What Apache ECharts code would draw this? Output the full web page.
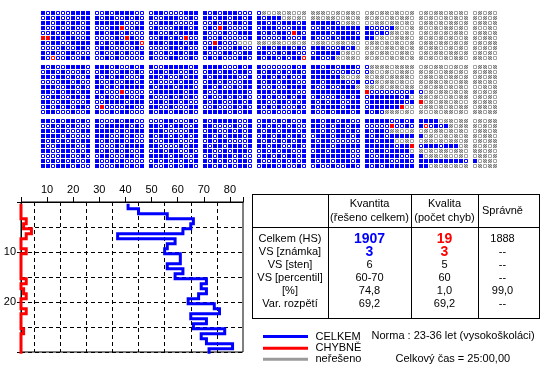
<!DOCTYPE html>
<html><head><meta charset="utf-8">
<script src="https://cdn.jsdelivr.net/npm/echarts@6/dist/echarts.min.js"></script>
<style>html,body{margin:0;padding:0;background:#fff}#c{width:550px;height:372px}</style>
</head><body><div id="c"></div>
<script>
// ---- data ----
const solvedPerRow = [41,45,56,66,65,62,37,59,56,55, 61,61,56,62,59,71,69,71,68,64, 74,76,65,71,66,78,69,71,81,72];
// [row (1-based), column (0-based)] of wrong answers
const errorCells = [[4,15],[4,33],[5,47],[6,0],[6,1],[6,16],[6,27],[7,19],[7,32],[10,2],[10,49],
  [16,15],[16,60],[18,70],[19,11],[19,67],[22,65],[22,71],[26,69]];
// 1 = filled square, 0 = hollow square
const cellPattern = [
"1010001111 0010111100 0110000111 1010111000 0100101001 1110010110 0101101001 0101101010 01010",
"0101001011 1011001010 1001110010 1101101101 1011101010 1101100101 1010010110 1010010101 10101",
"1101101101 1111110001 0011100001 0010101101 1101011101 1111100110 0011011010 0110101101 01101",
"1001001001 0001110011 0100011101 0101100001 0111000111 0010111111 1000011001 1001011010 10010",
"0010110001 1101101000 1100101111 1000100111 1010110110 1111011110 1101011010 0101010110 01101",
"1111011001 0000101100 0011010100 1001000001 1000010001 1000101111 1101001110 1010101001 10110",
"1011001111 1010110110 1110111011 0011000000 1101100101 0110011010 0110101001 0110110101 01011",
"0000100110 0110000010 0000110100 0110001100 0110111010 1110001010 1010110101 1011001010 10101",
"1010011000 0100101001 1001011011 1000110011 1100101100 0111110100 0101100110 0101101101 01010",
"1000010011 0010100000 1000110010 0101000110 1011010110 1100110110 1010010101 1010010110 11010",
"1010011110 1110100101 1001111101 1111000101 1000000101 1101101110 0111101111 0101100101 01101",
"0110100010 0110011010 0110110010 0110110110 1011010110 1111000100 0100100110 1010011010 10110",
"1101101001 1010110001 1101001011 1011111001 0110101001 1111111001 1011011110 0110101101 01011",
"0000110100 1001001101 0100010110 0110100011 1011011100 1101111001 0010110100 1011010011 11010",
"1110011010 1101011111 1011101110 1101001011 1001001111 1001001111 1101011011 0101101010 00101",
"1101011011 0100010000 0111111011 1001111110 1110111100 1111111111 1000000001 0010110101 10101",
"0011001101 1010011001 1000101010 0100101010 0101001011 0100010101 0111111010 1101001011 01010",
"1100110001 0011110111 0110110100 1011001101 1100110101 1010110011 0111111101 1010110100 10110",
"0101010110 0100001100 1100100011 0010001010 1010100010 1011110111 0111111100 0110101011 01101",
"0110001001 1001011000 1011011010 1111101011 1001000101 1001011101 1010111010 1001011010 11011",
"1101011010 1000101100 0001100010 1011111001 0110101001 1101101100 1111100101 1111011011 01011",
"0010101000 1011111010 1101011001 1100001001 0101010100 1101011011 0000010010 1001011011 10101",
"1101100011 1111010111 1110000011 0110010101 1011011101 1101011010 1011011001 0101101010 01101",
"1111010000 1110010100 1011010101 1101011101 0110110110 0111011101 1011011111 1010010101 10110",
"1010101011 1010110100 1001110001 0101100001 1010101011 1011000000 1101110010 0110101101 01011",
"1001111001 1000101111 1100001011 1011011101 1101100110 1111011111 1111110111 0111011101 10101",
"1100110101 1010101001 0110110010 1100101110 0101011001 0110111100 1011011110 1010110110 11010",
"0000110010 0110001101 1111011001 0101110100 0110101101 1111111100 1001111001 1011010010 01101",
"1010101001 1001010000 0101010101 1010100110 1001010101 1011011101 1111100110 1111111110 10110",
"1101110100 1000110101 1001010110 1101010110 0111010010 0100100110 1010111111 1101010101 01011"
];
const tableHeaders = [['Kvantita','(řešeno celkem)'],['Kvalita','(počet chyb)'],['Správně']];
const rowLabels = ['Celkem (HS)','VS [známka]','VS [sten]','VS [percentil]','[%]','Var. rozpětí'];
const kvantita = ['1907','3','6','60-70','74,8','69,2'];
const kvalita = ['19','3','5','60','1,0','69,2'];
const spravne = ['1888','--','--','--','99,0','--'];
const legendNames = ['CELKEM','CHYBNĚ','neřešeno'];
const normaText = 'Norma : 23-36 let (vysokoškoláci)';
const timeText = 'Celkový čas = 25:00,00';

// ---- build ----
const COLS = 85, ROWS = 30;
const errSet = new Set(errorCells.map(e => e[0] + ':' + e[1]));
const errorsPerRow = solvedPerRow.map((_, r) => errorCells.filter(e => e[0] === r + 1).length);
const cellData = [];
for (let r = 0; r < ROWS; r++) {
  const bits = cellPattern[r].replace(/ /g, '');
  for (let c = 0; c < COLS; c++) {
    const state = errSet.has((r + 1) + ':' + c) ? 2 : (c < solvedPerRow[r] ? 1 : 0);
    cellData.push([c + Math.floor(c / 10) * 0.8, r + Math.floor(r / 10) * 0.8, state, +bits[c]]);
  }
}
const off = 1 / 3;
function stepPoints(vals) {
  const pts = [];
  vals.forEach((v, r) => { pts.push([v, r + off]); pts.push([v, r + 1 + off]); });
  return pts;
}
const pc = document.createElement('canvas'); pc.width = 2; pc.height = 2;
const pctx = pc.getContext('2d');
pctx.fillStyle = '#c4c4c4'; pctx.fillRect(0, 0, 2, 2);
pctx.fillStyle = '#808080'; pctx.fillRect(0, 0, 1, 1); pctx.fillRect(1, 1, 1, 1);
const grayPattern = { image: pc, repeat: 'repeat' };

const FONT = '"Liberation Sans", Arial, sans-serif';
const graphics = [];
function txt(s, x, y, opt) {
  opt = opt || {};
  graphics.push({ type: 'text', silent: true, style: { text: s, x: x, y: y,
    fill: opt.fill || '#000', font: (opt.font || '11px ') + FONT,
    align: opt.align || 'center', verticalAlign: 'middle' } });
}
function hline(x1, x2, y, color, w) {
  graphics.push({ type: 'line', silent: true, shape: { x1: x1, y1: y, x2: x2, y2: y },
    style: { stroke: color || '#000', lineWidth: w || 1 } });
}
function vline(x, y1, y2) {
  graphics.push({ type: 'line', silent: true, shape: { x1: x, y1: y1, x2: x, y2: y2 },
    style: { stroke: '#000', lineWidth: 1 } });
}
// table
const tx = [252, 328, 411, 478, 539], ty0 = 194, tyH = 227, ty1 = 318;
hline(tx[0], tx[4] + 1, ty0 + 0.5); hline(tx[0], tx[4] + 1, tyH + 0.5); hline(tx[0], tx[4] + 1, ty1 + 0.5);
tx.forEach(x => vline(x + 0.5, ty0, ty1 + 1));
const colCenters = [290, 369.5, 444.5, 502.5];
txt(tableHeaders[0][0], colCenters[1], 203.5); txt(tableHeaders[0][1], colCenters[1], 217.5);
txt(tableHeaders[1][0], colCenters[2], 203.5); txt(tableHeaders[1][1], colCenters[2], 217.5);
txt(tableHeaders[2][0], colCenters[3], 210.5);
const rowY = [239, 252.3, 265.3, 278.3, 291.3, 304.3];
rowLabels.forEach((s, i) => {
  txt(s, colCenters[0], rowY[i]);
  const big = i < 2;
  txt(kvantita[i], colCenters[1], rowY[i], big ? { font: 'bold 14px ', fill: '#0000ff' } : {});
  txt(kvalita[i], colCenters[2], rowY[i], big ? { font: 'bold 14px ', fill: '#ff0000' } : {});
  txt(spravne[i], colCenters[3], rowY[i]);
});
// legend
const legColors = ['#0000ff', '#ff0000', '#9a9a9a'];
const legY = [336.5, 348.3, 359.3];
legendNames.forEach((s, i) => {
  hline(263, 308, legY[i], legColors[i], 3);
  txt(s, 315.5, legY[i], { align: 'left' });
});
txt(normaText, 371.5, 336.3, { align: 'left' });
txt(timeText, 395.5, 359.3, { align: 'left' });

const xGrid = [];
for (let v = 5; v < 80; v += 10) xGrid.push({ xAxis: v });

const chart = echarts.init(document.getElementById('c'), null, { renderer: 'canvas' });
chart.setOption({
  animation: false,
  grid: [
    { left: 41, top: 11, width: 457, height: 158 },
    { left: 21, top: 202, width: 222, height: 150, show: true, borderColor: '#000', borderWidth: 1, backgroundColor: 'transparent' }
  ],
  xAxis: [
    { gridIndex: 0, type: 'value', min: 0, max: 91.4, show: false },
    { gridIndex: 1, type: 'value', position: 'top', min: 0, max: 85, interval: 10,
      axisLine: { show: true, lineStyle: { color: '#000' } },
      axisTick: { show: true, length: 5, lineStyle: { color: '#000' } },
      axisLabel: { color: '#000', fontSize: 11, fontFamily: FONT, margin: 7,
        formatter: v => (v >= 10 && v <= 80) ? String(v) : '' },
      splitLine: { show: false } }
  ],
  yAxis: [
    { gridIndex: 0, type: 'value', inverse: true, min: 0, max: 31.6, show: false },
    { gridIndex: 1, type: 'value', inverse: true, min: 0, max: 30, interval: 10,
      axisLine: { show: true, lineStyle: { color: '#000' } },
      axisTick: { show: true, length: 4, lineStyle: { color: '#000' } },
      axisLabel: { color: '#000', fontSize: 11, fontFamily: FONT, margin: 5,
        formatter: v => (v === 10 || v === 20) ? String(v) : '' },
      splitLine: { show: true, lineStyle: { color: '#000', type: [4, 3], width: 1 } },
      minorTick: { show: false, splitNumber: 2 },
      minorSplitLine: { show: true, lineStyle: { color: '#000', type: [4, 3], width: 1 } } }
  ],
  series: [
    { type: 'custom', xAxisIndex: 0, yAxisIndex: 0, data: cellData, silent: true,
      renderItem: function (params, api) {
        const p = api.coord([api.value(0), api.value(1)]);
        const s = api.size([0.8, 0.8]);
        const x = Math.round(p[0]), y = Math.round(p[1]);
        const w = Math.round(s[0]), h = Math.round(s[1]);
        const st = api.value(2), filled = api.value(3);
        const col = st === 2 ? '#ff0000' : (st === 1 ? '#0000ff' : null);
        if (filled) return { type: 'rect', shape: { x: x, y: y, width: w, height: h },
          style: { fill: col || grayPattern } };
        return { type: 'rect', shape: { x: x + 0.5, y: y + 0.5, width: w - 1, height: h - 1 },
          style: { fill: '#fff', stroke: col || '#a0a0a0', lineWidth: 1 } };
      } },
    { type: 'line', name: 'grid', xAxisIndex: 1, yAxisIndex: 1, data: [], z: 1,
      markLine: { silent: true, symbol: ['none', 'none'], label: { show: false },
        lineStyle: { color: '#000', type: [4, 3], width: 1 }, data: xGrid, animation: false } },
    { type: 'line', name: legendNames[0], xAxisIndex: 1, yAxisIndex: 1, data: stepPoints(solvedPerRow),
      showSymbol: false, clip: false, z: 10, silent: true,
      lineStyle: { color: '#0000ff', width: 3, join: 'miter', cap: 'butt' } },
    { type: 'line', name: legendNames[1], xAxisIndex: 1, yAxisIndex: 1, data: stepPoints(errorsPerRow),
      showSymbol: false, clip: false, z: 11, silent: true,
      lineStyle: { color: '#ff0000', width: 3, join: 'miter', cap: 'butt' } }
  ],
  graphic: graphics
});
</script></body></html>
